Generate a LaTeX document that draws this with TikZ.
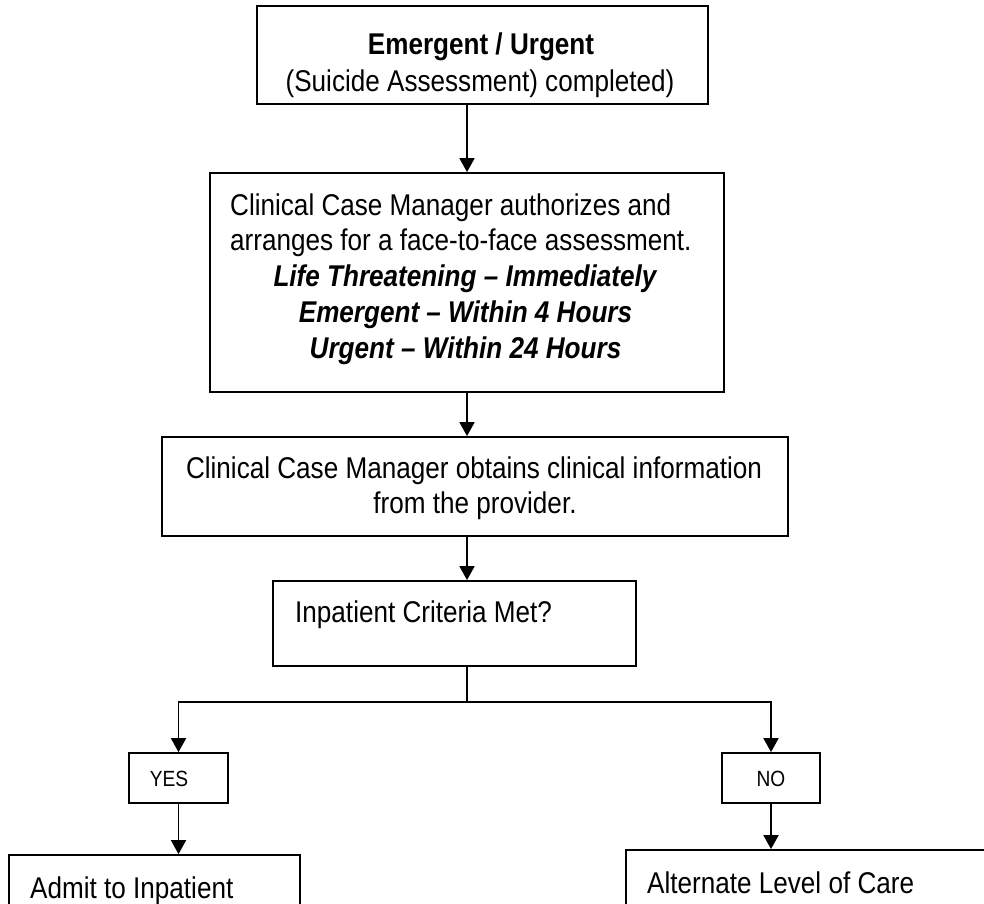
\documentclass[tikz,border=0pt]{standalone}
\usepackage{fontspec}
\setmainfont[FakeStretch=0.87]{Liberation Sans}
\usetikzlibrary{arrows.meta}
\begin{document}
\begin{tikzpicture}[x=1pt,y=-1pt,
  box/.style={draw, line width=1.8pt, inner sep=0pt, rectangle},
  txt/.style={inner sep=0pt, anchor=base, font=\fontsize{30}{36}\selectfont},
  ltxt/.style={txt, anchor=base west},
  small/.style={inner sep=0pt, anchor=base, font=\fontsize{22}{26}\selectfont},
  arr/.style={line width=1.8pt, -{Triangle[width=15pt,length=14pt]}},
  ln/.style={line width=1.8pt}]
\useasboundingbox (0,0) rectangle (984,903);
\clip (0,0) rectangle (984,903);
% boxes
\node[box, minimum width=451pt, minimum height=98pt] (b1) at (482.5,55) {};
\node[box, minimum width=514pt, minimum height=219pt] (b2) at (467,282.5) {};
\node[box, minimum width=626pt, minimum height=99pt] (b3) at (475,486.5) {};
\node[box, minimum width=363pt, minimum height=85pt] (b4) at (454.5,623.5) {};
\node[box, minimum width=99pt, minimum height=50pt] (yes) at (178.5,778) {};
\node[box, minimum width=98pt, minimum height=50pt] (no) at (771,778) {};
\node[box, minimum width=291pt, minimum height=120pt] (admit) at (154.5,915) {};
\node[box, minimum width=400pt, minimum height=120pt] (alt) at (826,910) {};
% texts
\node[txt] (t1a) at (481,54) {\textbf{Emergent / Urgent}};
\node[txt] (t1b) at (480,91) {(Suicide Assessment) completed)};
\node[ltxt] (t2a) at (230,215) {Clinical Case Manager authorizes and};
\node[ltxt] (t2b) at (230,250.5) {arranges for a face-to-face assessment.};
\node[txt] (t2c) at (465.5,286.5) {\textbf{\textit{Life Threatening – Immediately}}};
\node[txt] (t2d) at (465.5,322.5) {\textbf{\textit{Emergent – Within 4 Hours}}};
\node[txt] (t2e) at (465.5,358.5) {\textbf{\textit{Urgent – Within 24 Hours}}};
\node[txt] (t3a) at (474,478) {Clinical Case Manager obtains clinical information};
\node[txt] (t3b) at (475,513) {from the provider.};
\node[ltxt] (t4) at (295,622) {Inpatient Criteria Met?};
\node[small] (tyes) at (169,786) {YES};
\node[small] (tno) at (771,786) {NO};
\node[ltxt] (tadm) at (30,898) {Admit to Inpatient};
\node[ltxt] (talt) at (647,893) {Alternate Level of Care};
% connectors
\coordinate (sp) at (467,0);
\coordinate (j) at (467,702);
\draw[arr] (sp |- b1.south) -- (b2.north);
\draw[arr] (b2.south) -- (sp |- b3.north);
\draw[arr] (sp |- b3.south) -- (sp |- b4.north);
\draw[ln] (sp |- b4.south) -- (j);
\draw[arr] (j) -| (yes.north);
\draw[arr] (j) -| (no.north);
\draw[arr] (yes.south) -- (yes.south |- admit.north);
\draw[arr] (no.south) -- (no.south |- alt.north);
\end{tikzpicture}
\end{document}
